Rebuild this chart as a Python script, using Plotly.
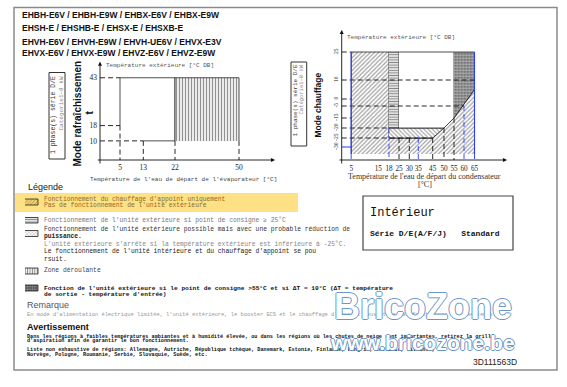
import numpy as np
import plotly.graph_objects as go

W, H = 567, 387

# ------------------------------------------------------------------ data
model_lines = [
    "EHBH-E6V / EHBH-E9W / EHBX-E6V / EHBX-E9W",
    "EHSH-E / EHSHB-E / EHSX-E / EHSXB-E",
    "EHVH-E6V / EHVH-E9W / EHVH-UE6V / EHVX-E3V",
    "EHVX-E6V / EHVX-E9W / EHVZ-E6V / EHVZ-E9W",
]

# cooling chart (values in °C)
cool_x_ticks = [5, 13, 22, 50]
cool_y_ticks = [43, 18, 10]
cool_area_x = [5, 5, 22, 22, 13]
cool_area_y = [18, 43, 43, 10, 10]
cool_roll_x = [22, 22, 50, 50]
cool_roll_y = [10, 43, 43, 10]
cool_guides_x = [[0, 5], [0, 5], [0, 13], [5, 5], [13, 13], [22, 22], [50, 50]]
cool_guides_y = [[43, 43], [18, 18], [10, 10], [18, 0], [10, 0], [10, 0], [10, 0]]

# heating chart (values in °C)
heat_x_ticks = [5, 15, 18, 25, 30, 35, 45, 50, 55, 60, 65]
heat_y_ticks = [25, 10, 0, -5, -15, -20, -25, -30]
heat_backup_x = [5, 5, 18, 18, 45, 55, 65, 65]
heat_backup_y = [-35, 25, 25, -25, -25, -15, 5, -35]
heat_reduced_x = [18, 45, 50, 18]
heat_reduced_y = [-25, -25, -20, -20]
heat_setpoint_x = [18, 25, 25, 18]
heat_setpoint_y = [-20, -20, 25, 25]
heat_free_x = [25, 50, 55, 55, 25]
heat_free_y = [-20, -20, -15, 25, 25]
heat_dt_x = [55, 65, 65, 55]
heat_dt_y = [-15, 5, 25, 25]
heat_guides_x = [[0, 5], [0, 65], [0, 5], [0, 60], [0, 5], [0, 18], [0, 45],
                 [25, 25], [30, 30], [45, 45], [50, 50], [55, 55]]
heat_guides_y = [[25, 25], [10, 10], [0, 0], [-5, -5], [-15, -15], [-20, -20], [-25, -25],
                 [-25, -40], [-25, -40], [-25, -40], [-20, -40], [-15, -40]]
heat_blue_dash_x = [[5, 5], [18, 18], [35, 35], [60, 60], [65, 65]]
heat_blue_dash_y = [[-35, -40], [-20, -40], [-25, -40], [-5, -40], [-35, -40]]
heat_blue_solid_x = [[0, 5], [5, 5], [65, 65]]
heat_blue_solid_y = [[-30, -30], [-35, 25], [-35, 25]]

# ------------------------------------------------------------------ schematic (non-linear) scales
COOL_XV = [0, 5, 13, 22, 50]
COOL_XP = [0, 20, 43.3, 75, 139]
HEAT_XV = [0, 5, 15, 18, 25, 30, 35, 45, 50, 55, 60, 65]
HEAT_XP = [0, 9.5, 36.6, 47.3, 57.3, 67.6, 76.6, 91, 102.3, 112.3, 122.3, 132.8]
HEAT_YV = [-40, -35, -30, -25, -20, -15, -5, 0, 10, 25]
HEAT_YP = [0, 6, 13, 22, 32, 42, 54, 61, 80, 108]


def cx(v):
    return list(np.interp(v, COOL_XV, COOL_XP))


def cy(v):
    return list(np.asarray(v, dtype=float))


def hx(v):
    return list(np.interp(v, HEAT_XV, HEAT_XP))


def hy(v):
    return list(np.interp(v, HEAT_YV, HEAT_YP))


MONO = "Liberation Mono"
SANS = "Liberation Sans"
SERIF = "Liberation Serif"

fig = go.Figure()


def poly(xs, ys, ax, pat=None, fill="white", lw=0.8):
    fig.add_trace(go.Scatter(
        x=xs, y=ys, xaxis=ax[0], yaxis=ax[1], mode="lines", fill="toself",
        fillcolor=fill, fillpattern=pat if pat else None,
        line=dict(color="#222", width=lw), hoverinfo="skip", showlegend=False))


def seg(xs, ys, ax, color="#111", dash="5px,3px", width=0.9):
    fig.add_trace(go.Scatter(
        x=xs, y=ys, xaxis=ax[0], yaxis=ax[1], mode="lines",
        line=dict(color=color, width=width, dash=dash), hoverinfo="skip", showlegend=False))


C = ("x", "y")
HT = ("x2", "y2")
PG = ("x3", "y3")

# cooling chart marks
poly(cx(cool_area_x), cy(cool_area_y), C)
poly(cx(cool_roll_x), cy(cool_roll_y), C,
     pat=dict(shape="|", fgcolor="#222", bgcolor="white", size=3, solidity=0.45))
for gx, gy in zip(cool_guides_x, cool_guides_y):
    seg(cx(gx), cy(gy), C)

# heating chart marks
poly(hx(heat_backup_x), hy(heat_backup_y), HT,
     pat=dict(shape="/", fgcolor="#444", bgcolor="white", size=3, solidity=0.4))
poly(hx(heat_reduced_x), hy(heat_reduced_y), HT,
     pat=dict(shape="\\", fgcolor="#555", bgcolor="white", size=3, solidity=0.4))
poly(hx(heat_setpoint_x), hy(heat_setpoint_y), HT,
     pat=dict(shape="-", fgcolor="#111", bgcolor="white", size=2.6, solidity=0.5))
poly(hx(heat_free_x), hy(heat_free_y), HT)
poly(hx(heat_dt_x), hy(heat_dt_y), HT,
     pat=dict(shape=".", fgcolor="white", bgcolor="#505050", size=3, solidity=0.75))
for gx, gy in zip(heat_guides_x, heat_guides_y):
    seg(hx(gx), hy(gy), HT)
for gx, gy in zip(heat_blue_dash_x, heat_blue_dash_y):
    seg(hx(gx), hy(gy), HT, color="#2a3cff")
for gx, gy in zip(heat_blue_solid_x, heat_blue_solid_y):
    seg(hx(gx), hy(gy), HT, color="#2a3cff", dash="solid", width=1.1)

# legend icons (page coordinates)
icons = [
    ((25, 199, 38, 205), dict(shape="/", fgcolor="#6b5a2a", bgcolor="#f2d36e", size=2.6, solidity=0.35)),
    ((25, 217.5, 38, 223), dict(shape="-", fgcolor="#111", bgcolor="white", size=2.4, solidity=0.5)),
    ((25, 230.5, 38, 236.5), dict(shape="x", fgcolor="#555", bgcolor="white", size=2.4, solidity=0.35)),
    ((25, 268, 38, 274), dict(shape="|", fgcolor="#111", bgcolor="white", size=2.4, solidity=0.45)),
    ((25, 285, 38, 291), dict(shape=".", fgcolor="white", bgcolor="#333", size=2.4, solidity=0.6)),
]
for (x0, y0, x1, y1), pat in icons:
    poly([x0, x1, x1, x0], [y0, y0, y1, y1], PG, pat=pat, lw=0.8)

# ------------------------------------------------------------------ annotations
ann = []


def T(x, y, s, size, color="#222", family=MONO, bold=False, angle=0, xa="left", ya="middle",
      xshift=0, yshift=0):
    ann.append(dict(x=x / W, y=1 - y / H, xref="paper", yref="paper", text=s, showarrow=False,
                    xanchor=xa, yanchor=ya, textangle=angle, xshift=xshift, yshift=yshift,
                    font=dict(family=family, size=size, color=color,
                              weight="bold" if bold else "normal")))


def arrow(xh, yh, xt, yt, xr, yr):
    ann.append(dict(x=xh, y=yh, ax=xt, ay=yt, xref=xr, yref=yr, axref=xr, ayref=yr,
                    text="", showarrow=True, arrowhead=2, arrowsize=0.9, arrowwidth=0.9,
                    arrowcolor="#111", standoff=0, startstandoff=0))


arrow(0, 51.4, 0, -2.6, "x", "y")
arrow(175, 0, -3.7, 0, "x", "y")
arrow(0, 130, 0, -5, "x2", "y2")
arrow(165.3, 0, -3.7, 0, "x2", "y2")

for i, s in enumerate(model_lines):
    T(20, [15, 28.3, 41.7, 53.3][i], s, 8.5, "#111", SANS, bold=True)

# cooling chart texts
T(104, 65, "Température extérieure [°C DB]", 6, "#555")
T(183, 179, "Température de l'eau de départ de l'évaporateur [°C]", 6, "#444", xa="center")
T(77, 113.5, "Mode rafraîchissemen", 10, "#111", SANS, bold=True, angle=-90, xa="center")
T(89, 112.5, "t", 10, "#111", SANS, bold=True, angle=-90, xa="center")
T(54, 115, "1 phase(s) série D/E", 6.5, "#333", angle=-90, xa="center")
T(61.5, 104, "Catégorie1~8 kW", 6, "#888", angle=-90, xa="center")

# heating chart texts
T(345, 37, "Température extérieure [°C DB]", 6, "#555")
T(424.5, 177, "Température de l'eau de départ du condensateur", 8, "#333", SERIF, xa="center")
T(425, 184.5, "[°C]", 8, "#333", SERIF, xa="center")
T(318, 105.5, "Mode chauffage", 8.5, "#111", SANS, bold=True, angle=-90, xa="center")
T(295.5, 101, "1 phase(s) série D/E", 6, "#333", angle=-90, xa="center")
T(301.5, 90, "Catégorie1~8 kW", 5.5, "#888", angle=-90, xa="center")

# legend
T(26, 187, "Légende", 9, "#222", SANS)
T(42, 199, "Fonctionnement du chauffage d'appoint uniquement", 6.3, "#8a6a2a")
T(42, 205.7, "Pas de fonctionnement de l'unité extérieure", 6.3, "#8a6a2a")
T(42, 219.7, "Fonctionnement de l'unité extérieure si point de consigne ≥ 25°C", 6.3, "#777")
T(42, 229.3, "Fonctionnement de l'unité extérieure possible mais avec une probable réduction de", 6.3, "#333")
T(42, 236.7, "puissance.", 6.3, "#222", bold=True)
T(42, 244.3, "L'unité extérieure s'arrête si la température extérieure est inférieure à -25°C.", 6.3, "#888")
T(42, 251.7, "Le fonctionnement de l'unité intérieure et du chauffage d'appoint se pou", 6.3, "#222")
T(42, 259.5, "rsuit.", 6.3, "#222")
T(42, 270.7, "Zone déroulante", 6.3, "#444")
T(42, 288.3, "Fonction de l'unité extérieure si le point de consigne >55°C et si ΔT = 10°C (ΔT = température",
  6.2, "#111", bold=True)
T(42, 294.3, "de sortie - température d'entrée)", 6.2, "#111", bold=True)
T(25, 305, "Remarque", 9, "#555", SANS)
T(25, 315, "En mode d'alimentation électrique limitée, l'unité extérieure, le booster ECS et le chauffage "
  "d'appoint peuvent ne pas fonctionner en même temps.", 5.4, "#999")
T(25, 327.3, "Avertissement", 9, "#111", SANS, bold=True)
T(25, 336.7, "Dans les régions à faibles températures ambiantes et à humidité élevée, ou dans les régions où "
  "les chutes de neige sont importantes, retirez la grille", 5.2, "#111", bold=True)
T(25, 341.3, "d'aspiration afin de garantir le bon fonctionnement.", 5.2, "#111", bold=True)
T(25, 350, "Liste non exhaustive de régions: Allemagne, Autriche, République tchèque, Danemark, Estonie, "
  "Finlande, Hongrie, Lettonie, Lituanie,", 5.2, "#111", bold=True)
T(25, 354.5, "Norvège, Pologne, Roumanie, Serbie, Slovaquie, Suède, etc.", 5.2, "#111", bold=True)

# indoor box
T(368, 213, "Intérieur", 12, "#111")
T(368, 233, "Série D/E(A/F/J)\u00a0\u00a0\u00a0Standard", 8, "#111", bold=True)
T(495, 362, "3D111563D", 8.5, "#222", SANS, xa="center")

# watermark (outlined text: shifted blue copies, then a white copy on top)
oc = "#6b96c8"
offs = [(1, 0), (-1, 0), (0, 1), (0, -1)]
for txt, yy, sz in [("BricoZone", 306, 36), ("www.bricozone.be", 342, 21)]:
    for dx, dy in offs:
        T(422.5, yy, txt, sz, oc, "Liberation Sans", bold=True, xa="center", xshift=dx, yshift=dy)
    T(422.5, yy, txt, sz, "#ffffff", "Liberation Sans", bold=True, xa="center")


def P(x, y):
    return x / W, 1 - y / H


shapes = []
# yellow band
x0, y0 = P(15, 193)
x1, y1 = P(298, 212)
shapes.append(dict(type="rect", xref="paper", yref="paper", x0=x0, y0=y0, x1=x1, y1=y1,
                   fillcolor="#fee184", line=dict(width=0), layer="below"))
# page frame
x0, y0 = P(14, 7.5)
x1, y1 = P(557, 370)
shapes.append(dict(type="rect", xref="paper", yref="paper", x0=x0, y0=y0, x1=x1, y1=y1,
                   line=dict(color="#8a8a8a", width=1.5), layer="below"))
# side boxes
for (a, b, c, d) in [(49, 72.5, 65, 159), (291, 62, 306.7, 146)]:
    x0, y0 = P(a, b)
    x1, y1 = P(c, d)
    shapes.append(dict(type="rect", xref="paper", yref="paper", x0=x0, y0=y0, x1=x1, y1=y1,
                       line=dict(color="#333", width=1)))
# indoor box
x0, y0 = P(363, 196)
x1, y1 = P(513, 250)
shapes.append(dict(type="rect", xref="paper", yref="paper", x0=x0, y0=y0, x1=x1, y1=y1,
                   line=dict(color="#444", width=1.2)))

tickfont = dict(family=SERIF, size=7.5, color="#222")
common = dict(showgrid=False, zeroline=False, showline=False, ticks="", fixedrange=True)

fig.update_layout(
    width=W, height=H, margin=dict(l=0, r=0, t=0, b=0),
    paper_bgcolor="white", plot_bgcolor="rgba(0,0,0,0)", showlegend=False,
    xaxis=dict(domain=[100 / W, 275 / W], range=[0, 175], anchor="y",
               tickvals=cx(cool_x_ticks), ticktext=[str(v) for v in cool_x_ticks],
               tickfont=tickfont, tickangle=0, ticklabelstandoff=1, **common),
    yaxis=dict(domain=[1 - 160 / H, 1 - 61.7 / H], range=[0, 51.4], anchor="x",
               tickvals=cy(cool_y_ticks), ticktext=[str(v) for v in cool_y_ticks],
               tickfont=tickfont, ticklabelstandoff=2, **common),
    xaxis2=dict(domain=[341.7 / W, 507 / W], range=[0, 165.3], anchor="y2",
                tickvals=hx(heat_x_ticks), ticktext=[str(v) for v in heat_x_ticks],
                tickfont=dict(family=SERIF, size=7.2, color="#222"), tickangle=0,
                ticklabelstandoff=3, **common),
    yaxis2=dict(domain=[1 - 160 / H, 1 - 30 / H], range=[0, 130], anchor="x2",
                tickvals=hy(heat_y_ticks), ticktext=[str(v) for v in heat_y_ticks],
                tickfont=dict(family=SERIF, size=5.6, color="#222"), tickangle=-90,
                ticklabelstandoff=2, **common),
    xaxis3=dict(domain=[0, 1], range=[0, W], anchor="y3", visible=False, fixedrange=True),
    yaxis3=dict(domain=[0, 1], range=[H, 0], anchor="x3", visible=False, fixedrange=True),
    annotations=ann, shapes=shapes,
)

fig.write_html("out.html")
